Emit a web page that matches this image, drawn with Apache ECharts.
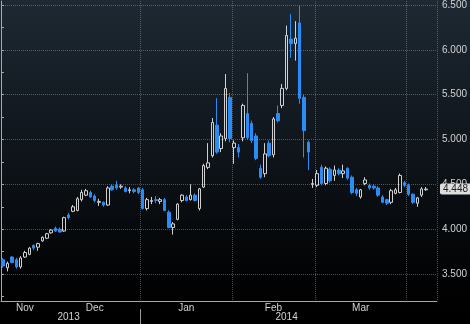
<!DOCTYPE html>
<html lang="en">
<head>
<meta charset="UTF-8">
<title>Natural gas daily</title>
<script src="https://cdn.jsdelivr.net/npm/echarts@6/dist/echarts.min.js"></script>
<style>
  html, body { margin: 0; padding: 0; background: #000; }
  #main { width: 470px; height: 324px; }
</style>
</head>
<body>
<div id="main"></div>
<script>
// trading days shown on the chart (last two slots left empty)
var dates = [
  '2013-11-14','2013-11-15','2013-11-18','2013-11-19','2013-11-20','2013-11-21','2013-11-22','2013-11-25','2013-11-26','2013-11-27','2013-11-29',
  '2013-12-02','2013-12-03','2013-12-04','2013-12-05','2013-12-06','2013-12-09','2013-12-10','2013-12-11','2013-12-12','2013-12-13',
  '2013-12-16','2013-12-17','2013-12-18','2013-12-19','2013-12-20','2013-12-23','2013-12-24','2013-12-26','2013-12-27','2013-12-30','2013-12-31',
  '2014-01-02','2014-01-03','2014-01-06','2014-01-07','2014-01-08','2014-01-09','2014-01-10','2014-01-13','2014-01-14','2014-01-15',
  '2014-01-16','2014-01-17','2014-01-21','2014-01-22','2014-01-23','2014-01-24','2014-01-27','2014-01-28','2014-01-29','2014-01-30','2014-01-31',
  '2014-02-03','2014-02-04','2014-02-05','2014-02-06','2014-02-07','2014-02-10','2014-02-11','2014-02-12','2014-02-13','2014-02-14',
  '2014-02-18','2014-02-19','2014-02-20','2014-02-21','2014-02-24','2014-02-25','2014-02-26','2014-02-27','2014-02-28',
  '2014-03-03','2014-03-04','2014-03-05','2014-03-06','2014-03-07','2014-03-10','2014-03-11','2014-03-12','2014-03-13','2014-03-14',
  '2014-03-17','2014-03-18','2014-03-19','2014-03-20','2014-03-21','2014-03-24','2014-03-25','2014-03-26','2014-03-27','2014-03-28','2014-03-31',
  '2014-04-01','2014-04-02','2014-04-03','2014-04-04','2014-04-07','2014-04-08','2014-04-09'
];

// [open, close, low, high]
var candles = [
  [3.66,3.59,3.57,3.68],[3.57,3.62,3.53,3.64],[3.69,3.63,3.62,3.70],[3.66,3.58,3.56,3.68],
  [3.58,3.68,3.56,3.70],[3.69,3.74,3.68,3.76],[3.72,3.79,3.71,3.80],[3.82,3.79,3.77,3.83],
  [3.80,3.84,3.76,3.85],[3.87,3.91,3.86,3.92],[3.90,3.95,3.89,3.96],
  [3.96,3.99,3.95,4.00],[4.01,3.98,3.97,4.03],[4.00,3.97,3.96,4.02],[3.98,4.13,3.97,4.14],
  [4.16,4.13,4.11,4.18],[4.20,4.25,4.19,4.27],[4.21,4.34,4.20,4.36],[4.33,4.41,4.31,4.44],
  [4.38,4.43,4.37,4.45],[4.41,4.36,4.35,4.43],[4.37,4.32,4.30,4.39],[4.30,4.31,4.26,4.34],
  [4.30,4.27,4.25,4.31],[4.27,4.46,4.26,4.48],[4.48,4.44,4.43,4.50],[4.49,4.46,4.44,4.54],
  [4.47,4.48,4.45,4.50],[4.46,4.42,4.41,4.48],[4.43,4.44,4.40,4.47],[4.44,4.42,4.40,4.46],
  [4.46,4.41,4.39,4.47],
  [4.44,4.23,4.22,4.46],[4.23,4.33,4.21,4.35],[4.31,4.32,4.28,4.36],[4.33,4.32,4.29,4.37],
  [4.31,4.33,4.28,4.35],[4.33,4.21,4.20,4.35],[4.19,4.02,4.01,4.21],[4.02,4.06,3.94,4.08],
  [4.11,4.28,4.10,4.29],[4.32,4.38,4.30,4.39],[4.36,4.32,4.31,4.38],[4.33,4.38,4.32,4.50],
  [4.38,4.32,4.31,4.40],[4.23,4.45,4.21,4.46],[4.47,4.71,4.46,4.73],[4.69,4.74,4.67,4.96],
  [4.82,5.19,4.80,5.24],[5.16,4.86,4.84,5.46],[4.90,5.04,4.86,5.07],[5.01,5.57,4.98,5.73],
  [5.47,5.01,4.97,5.52],
  [4.91,4.96,4.73,4.99],[4.91,4.86,4.80,4.95],[5.02,5.38,4.98,5.40],[5.29,5.02,5.00,5.74],
  [5.18,4.99,4.96,5.21],[5.04,4.79,4.77,5.07],[4.68,4.58,4.56,4.72],[4.62,4.84,4.58,4.96],
  [4.96,4.82,4.80,4.99],[4.83,5.23,4.80,5.25],[5.29,5.21,5.19,5.38],[5.38,5.57,5.35,5.62],
  [5.57,6.16,5.55,6.27],[6.12,6.07,5.91,6.40],[6.07,6.13,5.88,6.32],[6.30,5.46,5.40,6.49],
  [5.47,5.10,4.80,5.50],[4.97,4.86,4.66,4.99],[4.50,4.51,4.46,4.56],
  [4.49,4.62,4.47,4.66],[4.69,4.51,4.49,4.72],[4.51,4.68,4.49,4.70],[4.67,4.54,4.52,4.69],
  [4.60,4.66,4.54,4.71],[4.66,4.62,4.60,4.68],[4.62,4.65,4.57,4.72],[4.68,4.57,4.55,4.69],
  [4.58,4.41,4.39,4.60],[4.44,4.40,4.37,4.46],[4.36,4.44,4.34,4.45],[4.51,4.55,4.49,4.58],
  [4.49,4.46,4.44,4.51],[4.48,4.46,4.44,4.50],[4.46,4.38,4.36,4.48],[4.36,4.30,4.29,4.38],
  [4.33,4.29,4.27,4.34],[4.30,4.43,4.28,4.45],[4.40,4.44,4.39,4.46],[4.41,4.60,4.40,4.62],
  [4.52,4.49,4.47,4.54],
  [4.49,4.39,4.37,4.51],[4.39,4.30,4.28,4.40],[4.29,4.35,4.25,4.36],[4.38,4.45,4.36,4.47],
  [4.44,4.448,4.43,4.47]
];

var yLabels = [3.5, 4, 4.5, 5, 5.5, 6, 6.5];
var yTicks = [3.25, 3.5, 3.75, 4, 4.25, 4.5, 4.75, 5, 5.25, 5.5, 5.75, 6, 6.25, 6.5];
var monthNames = ['Jan','Feb','Mar','Apr','May','Jun','Jul','Aug','Sep','Oct','Nov','Dec'];
// year row: label slots and the year break, in day-slot units
var yearLabelPos = [15.5, 65.5];
var yearBreakPos = [32];
var lastPrice = 4.448;

// month boundaries and mid-month label slots, worked out from the dates
var monthStart = {};
var monthMid = {};
var runStart = 0;
for (var i = 1; i <= dates.length; i++) {
  if (i === dates.length || dates[i].slice(0, 7) !== dates[i - 1].slice(0, 7)) {
    if (i - runStart > 8) monthMid[Math.floor((runStart + i - 1) / 2)] = true;
    if (i < dates.length) monthStart[i] = true;
    runStart = i;
  }
}

var textColor = '#d2d2d2';
var gridColor = 'rgba(160,165,170,0.45)';
var axisColor = '#a8a8a8';

var chart = echarts.init(document.getElementById('main'));
chart.setOption({
  animation: false,
  backgroundColor: new echarts.graphic.LinearGradient(0, 0, 0, 1, [
    { offset: 0, color: '#1e2933' },
    { offset: 0.55, color: '#0c1116' },
    { offset: 0.85, color: '#020304' },
    { offset: 1, color: '#000000' }
  ]),
  textStyle: { fontFamily: 'Liberation Sans, Arial, sans-serif' },
  grid: { left: 1, right: 31, top: 0, bottom: 23 },
  xAxis: [{
    type: 'category',
    data: dates,
    boundaryGap: true,
    axisLine: { lineStyle: { color: axisColor, width: 1 } },
    axisTick: {
      length: 3,
      interval: function (idx) { return !!monthStart[idx]; },
      lineStyle: { color: axisColor }
    },
    axisLabel: {
      interval: function (idx) { return !!monthMid[idx]; },
      formatter: function (v) { return monthNames[parseInt(v.slice(5, 7), 10) - 1]; },
      color: textColor, fontSize: 10, margin: 2
    },
    splitLine: {
      show: true,
      showMinLine: false,
      interval: function (idx) { return !!monthStart[idx]; },
      lineStyle: { color: gridColor, type: 'dotted', width: 1 }
    }
  }, {
    type: 'value',
    position: 'bottom',
    offset: 8,
    min: 0,
    max: dates.length,
    axisLine: { show: false },
    axisTick: {
      show: true,
      length: 16,
      customValues: yearBreakPos,
      lineStyle: { color: '#9a9a9a', width: 1 }
    },
    axisLabel: {
      customValues: yearLabelPos,
      formatter: function (v) { return dates[Math.floor(v)].slice(0, 4); },
      color: textColor, fontSize: 10, margin: 3
    },
    splitLine: { show: false }
  }],
  yAxis: {
    type: 'value',
    position: 'right',
    min: 3.2,
    max: 6.544,
    axisLine: { show: true, lineStyle: { color: axisColor } },
    axisTick: { show: true, length: 3, customValues: yTicks, lineStyle: { color: axisColor } },
    axisLabel: {
      customValues: yLabels,
      formatter: function (v) { return v.toFixed(3); },
      color: textColor, fontSize: 10, margin: 5
    },
    splitLine: {
      show: true,
      lineStyle: { color: ['rgba(0,0,0,0)', gridColor], type: 'dotted', width: 1 }
    }
  },
  series: [{
    type: 'candlestick',
    data: candles,
    barWidth: 3,
    itemStyle: {
      color: 'rgba(0,0,0,0)',
      color0: '#2a8df5',
      borderColor: '#d0d0d0',
      borderColor0: '#2a8df5',
      borderWidth: 1
    },
    markLine: {
      silent: true,
      symbol: 'none',
      lineStyle: { color: 'rgba(0,0,0,0)', width: 0 },
      label: {
        show: true,
        position: 'end',
        distance: 3,
        formatter: lastPrice.toFixed(3),
        color: '#222',
        fontSize: 10,
        backgroundColor: '#dedede',
        borderRadius: 2,
        padding: [1, 3, 0, 3]
      },
      data: [{ yAxis: lastPrice }]
    }
  }]
});
</script>
</body>
</html>
